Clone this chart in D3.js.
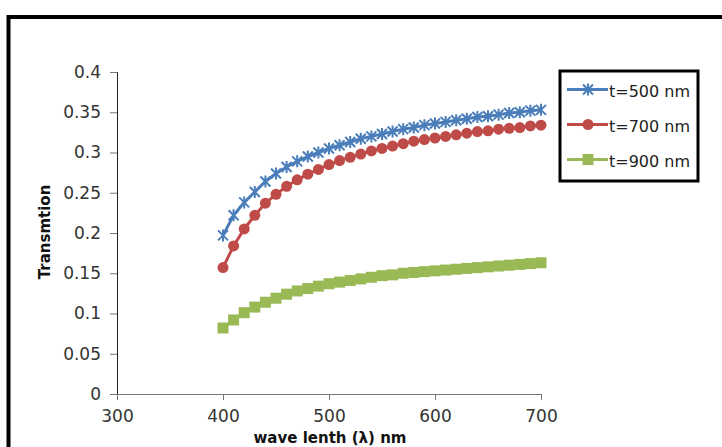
<!DOCTYPE html>
<html>
<head>
<meta charset="utf-8">
<script src="https://cdn.jsdelivr.net/npm/d3@7"></script>
<style>
  body { margin: 0; background: #fff; }
  svg { display: block; font-family: "DejaVu Sans", sans-serif; }
</style>
</head>
<body>
<svg id="chart" width="722" height="447"></svg>
<script>
// wavelengths (nm)
var wavelengths = [400, 410, 420, 430, 440, 450, 460, 470, 480, 490, 500,
  510, 520, 530, 540, 550, 560, 570, 580, 590, 600,
  610, 620, 630, 640, 650, 660, 670, 680, 690, 700];

// transmission values
var t500 = [0.197, 0.222, 0.238, 0.251, 0.264, 0.274, 0.282, 0.289, 0.295, 0.300, 0.305,
  0.309, 0.313, 0.317, 0.320, 0.323, 0.326, 0.329, 0.331, 0.334, 0.336,
  0.338, 0.340, 0.342, 0.344, 0.345, 0.347, 0.349, 0.350, 0.352, 0.353];
var t700 = [0.157, 0.184, 0.205, 0.222, 0.237, 0.248, 0.258, 0.266, 0.273, 0.279, 0.285,
  0.290, 0.294, 0.298, 0.302, 0.305, 0.308, 0.311, 0.314, 0.316, 0.318,
  0.320, 0.322, 0.324, 0.326, 0.327, 0.329, 0.330, 0.331, 0.333, 0.334];
var t900 = [0.082, 0.092, 0.101, 0.108, 0.114, 0.119, 0.124, 0.128, 0.131, 0.134, 0.137,
  0.139, 0.141, 0.143, 0.145, 0.147, 0.148, 0.150, 0.151, 0.152, 0.153,
  0.154, 0.155, 0.156, 0.157, 0.158, 0.159, 0.160, 0.161, 0.162, 0.163];

var seriesNames = ['t=500 nm', 't=700 nm', 't=900 nm'];
var xTicks = [300, 400, 500, 600, 700];
var yTicks = [0, 0.05, 0.1, 0.15, 0.2, 0.25, 0.3, 0.35, 0.4];

var colors = ['#4a7ebb', '#be4b48', '#98b954'];
var markers = ['star', 'circle', 'square'];
var font = '"DejaVu Sans", sans-serif';

var svg = d3.select('#chart');

//outer frame (cut off at right and bottom)
svg.append('rect')
  .attr('x', 8.5).attr('y', 17)
  .attr('width', 760).attr('height', 480)
  .attr('fill', 'none')
  .attr('stroke', '#000')
  .attr('stroke-width', 4);

var x = d3.scaleLinear().domain([300, 700]).range([117, 541]);
var y = d3.scaleLinear().domain([0, 0.4]).range([394, 72]);

//axes
var yAxis = d3.axisLeft(y).tickValues(yTicks).tickSize(7).tickPadding(9)
  .tickFormat(function(d) { return String(+d.toFixed(2)); });
var gy = svg.append('g').attr('transform', 'translate(117,0)').call(yAxis);
gy.select('.domain').attr('stroke', '#222');
gy.selectAll('.tick line').attr('stroke', '#777');

var xAxis = d3.axisBottom(x).tickValues(xTicks).tickSize(6).tickPadding(10);
var gx = svg.append('g').attr('transform', 'translate(0,394)').call(xAxis);
gx.select('.domain').attr('stroke', '#777');
gx.selectAll('.tick line').attr('stroke', '#777');

svg.selectAll('.tick text')
  .attr('font-size', 17)
  .attr('font-family', font)
  .attr('fill', '#333');

//axis titles
svg.append('text')
  .attr('transform', 'translate(50,232) rotate(-90)')
  .attr('text-anchor', 'middle')
  .attr('font-size', 15).attr('font-weight', 'bold')
  .attr('fill', '#111')
  .text('Transmtion');

svg.append('text')
  .attr('x', 330).attr('y', 443)
  .attr('text-anchor', 'middle')
  .attr('font-size', 15).attr('font-weight', 'bold')
  .attr('fill', '#111')
  .text('wave lenth (λ) nm');

//marker drawing
function drawMarker(g, type, color) {
  if (type == 'circle') {
    g.append('circle').attr('r', 5.5).attr('fill', color);
  } else if (type == 'square') {
    g.append('rect').attr('x', -5.5).attr('y', -5.5).attr('width', 11).attr('height', 11).attr('fill', color);
  } else {
    g.append('path')
      .attr('d', 'M-5,-5L5,5M-5,5L5,-5M0,-6L0,6')
      .attr('stroke', color).attr('stroke-width', 2).attr('fill', 'none');
  }
}

var allSeries = [t500, t700, t900];
var line = d3.line()
  .x(function(d, i) { return x(wavelengths[i]); })
  .y(function(d) { return y(d); });

allSeries.forEach(function(vals, s) {
  svg.append('path')
    .datum(vals)
    .attr('d', line)
    .attr('fill', 'none')
    .attr('stroke', colors[s])
    .attr('stroke-width', 3);

  svg.append('g').selectAll('g')
    .data(vals)
    .enter().append('g')
    .attr('transform', function(d, i) { return 'translate(' + x(wavelengths[i]) + ',' + y(d) + ')'; })
    .each(function() { drawMarker(d3.select(this), markers[s], colors[s]); });
});

//legend
var legend = svg.append('g');
legend.append('rect')
  .attr('x', 560).attr('y', 71)
  .attr('width', 138).attr('height', 110)
  .attr('fill', '#fff')
  .attr('stroke', '#000')
  .attr('stroke-width', 3);

seriesNames.forEach(function(name, i) {
  var ly = 89.5 + i * 35;
  legend.append('line')
    .attr('x1', 567).attr('x2', 608)
    .attr('y1', ly).attr('y2', ly)
    .attr('stroke', colors[i]).attr('stroke-width', 3);
  var m = legend.append('g').attr('transform', 'translate(588,' + ly + ')');
  drawMarker(m, markers[i], colors[i]);
  legend.append('text')
    .attr('x', 609).attr('y', ly + 7)
    .attr('font-size', 16)
    .attr('font-family', font)
    .attr('fill', '#222')
    .text(name);
});
</script>
</body>
</html>
